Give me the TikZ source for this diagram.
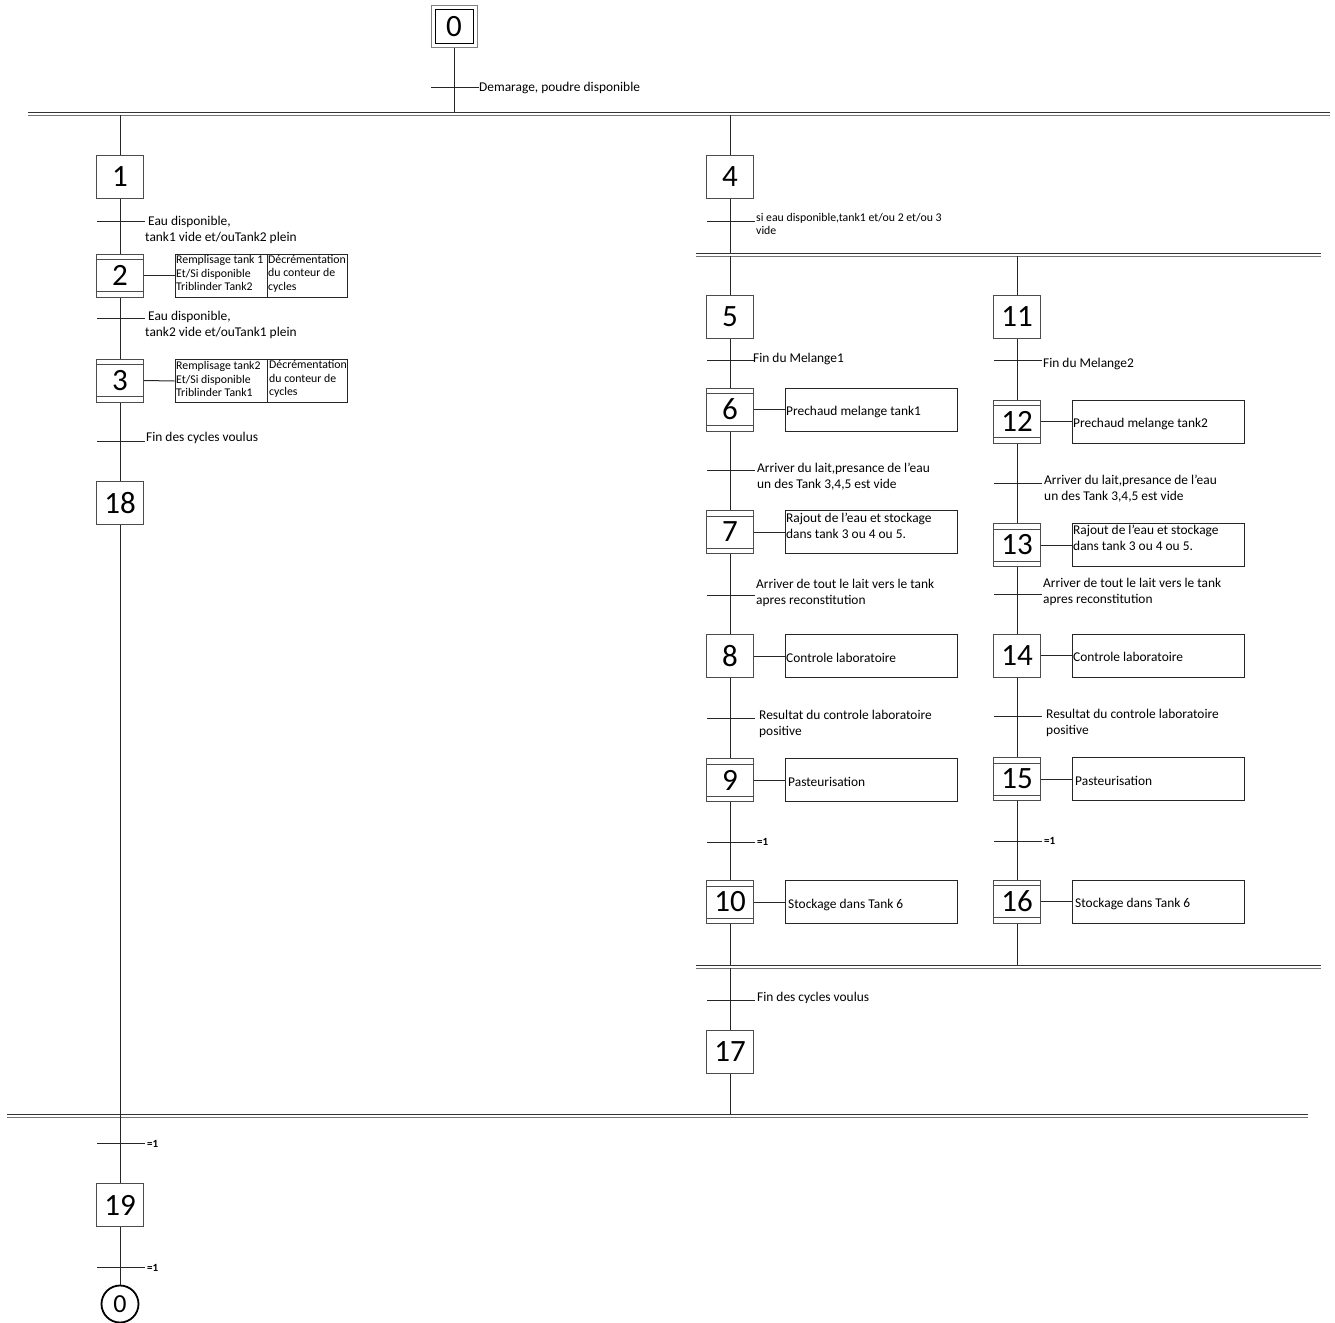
\documentclass[tikz,border=0pt]{standalone}
\usepackage{fontspec}
\setmainfont{Carlito}
\begin{document}
\begin{tikzpicture}[x=1pt,y=-1pt,
  ln/.style={line width=1pt, draw=black!85},
  bar/.style={line width=1pt, draw=black!80},
  stepbox/.style={draw=black!70, line width=1pt, minimum width=47pt, minimum height=43pt, inner sep=0pt, font=\fontsize{31}{31}\selectfont},
  actstep/.style={stepbox, path picture={
     \draw[black!70,line width=0.9pt] ([yshift=-5.5pt]path picture bounding box.north west) -- ([yshift=-5.5pt]path picture bounding box.north east);
     \draw[black!70,line width=0.9pt] ([yshift=5.5pt]path picture bounding box.south west) -- ([yshift=5.5pt]path picture bounding box.south east);}},
  actbox/.style={draw=black!85, line width=1pt, minimum width=172pt, minimum height=43pt, inner sep=0pt},
  cell/.style={draw=black!85, line width=0.9pt, minimum height=43pt, inner sep=0pt},
  lbl/.style={anchor=base west, align=left, inner sep=0pt, font=\fontsize{13.4}{16}\selectfont},
  small/.style={anchor=base west, align=left, inner sep=0pt, font=\fontsize{11.8}{13}\selectfont},
  tiny/.style={anchor=base west, align=left, inner sep=0pt, font=\fontsize{11.8}{13.5}\selectfont},
  one/.style={anchor=base west, inner sep=0pt, font=\fontsize{11}{12}\selectfont\bfseries},
]
\useasboundingbox (0,0) rectangle (1335,1322);

% ---------- initial step 0
\node[draw=black!50, line width=1pt, minimum width=46pt, minimum height=42pt, inner sep=0pt] (s0o) at (454,27) {};
\node[draw=black, line width=1pt, minimum width=38pt, minimum height=34pt, inner sep=0pt, font=\fontsize{31}{31}\selectfont] (s0) at (454,27) {0};
\coordinate (t0) at (454,87);
\coordinate (j0) at (454,112);
\draw[ln] (s0o.south) -- (j0);
\draw[ln] ([xshift=-23pt]t0) -- ([xshift=25pt]t0);
\node[lbl] (l0) at (479,91) {Demarage, poudre disponible};

% ---------- double bars
\coordinate (b1a) at (28,112);   \coordinate (b1b) at (1330,112);
\coordinate (b2a) at (696,253);  \coordinate (b2b) at (1321,253);
\coordinate (b3a) at (696,965);  \coordinate (b3b) at (1321,965);
\coordinate (b4a) at (7,1114);   \coordinate (b4b) at (1308,1114);
\foreach \a/\b in {b1a/b1b,b2a/b2b,b3a/b3b,b4a/b4b}{
  \draw[bar] (\a) -- (\b);
  \draw[bar,draw=black!55] ([yshift=-3pt]\a) -- ([yshift=-3pt]\b);
}

% ---------- left branch
\node[stepbox] (s1) at (120,176.5) {1};
\node[actstep] (s2) at (120,275.5) {2};
\node[actstep] (s3) at (120,380.5) {3};
\node[stepbox] (s18) at (120,503) {18};
\node[stepbox] (s19) at (120,1205) {19};
\node[draw=black, line width=1.8pt, circle, minimum size=37pt, inner sep=0pt, font=\fontsize{26}{26}\selectfont] (c0) at (120,1304) {0};

\coordinate (j1) at (120,115);
\draw[ln] (j1) -- (s1.north);
\draw[ln] (s1.south) -- (s2.north);
\draw[ln] (s2.south) -- (s3.north);
\draw[ln] (s3.south) -- (s18.north);
\draw[ln] (s18.south) -- (s19.north);
\draw[ln] (s19.south) -- (c0.north);

\coordinate (t1) at (120,221);
\coordinate (t2) at (120,318);
\coordinate (t3) at (120,441);
\coordinate (t18) at (120,1143);
\coordinate (t19) at (120,1267);
\foreach \t in {t1,t2,t3,t18,t19}{\draw[ln] ([xshift=-23pt]\t) -- ([xshift=25pt]\t);}
\node[lbl] (l1) at (145,241) {\ Eau disponible,\\tank1 vide et/ouTank2 plein};
\node[lbl] (l2) at (145,336) {\ Eau disponible,\\tank2 vide et/ouTank1 plein};
\node[lbl] (l3) at (146,441) {Fin des cycles voulus};
\node[one] (l18) at (147,1147) {=1};
\node[one] (l19) at (147,1271) {=1};

% action tables of steps 2 and 3
\node[cell, minimum width=92pt] (a2l) at (221,275.5) {};
\node[cell, minimum width=80pt] (a2r) at (307,275.5) {};
\node[cell, minimum width=92pt] (a3l) at (221,381) {};
\node[cell, minimum width=80pt] (a3r) at (307,381) {};
\draw[ln] (s2.east) -- (a2l.west);
\draw[ln] (s3.east) -- (a3l.west);
\node[tiny] (a2lt) at (176,290.5) {Remplisage tank 1\\Et/Si disponible\\Triblinder Tank2};
\node[tiny] (a2rt) at (268,290) {Décrémentation\\du conteur de\\cycles};
\node[tiny] (a3lt) at (176,396.5) {Remplisage tank2\\Et/Si disponible\\Triblinder Tank1};
\node[tiny] (a3rt) at (269,395.5) {Décrémentation\\du conteur de\\cycles};

% ---------- right branch
\node[stepbox] (s4) at (730,176.5) {4};
\coordinate (j4) at (730,115);
\coordinate (j4b) at (730,253);
\coordinate (t4) at (730,221);
\draw[ln] (j4) -- (s4.north);
\draw[ln] (s4.south) -- (j4b);
\draw[ln] ([xshift=-23pt]t4) -- ([xshift=25pt]t4);
\node[small] (l4) at (756,234.5) {si eau disponible,tank1 et/ou 2 et/ou 3\\vide};

% sub-branch A
\node[stepbox] (s5) at (730,317) {5};
\node[actstep] (s6) at (730,409.5) {6};
\node[actstep] (s7) at (730,532) {7};
\node[stepbox] (s8) at (730,656) {8};
\node[actstep] (s9) at (730,780) {9};
\node[actstep] (s10) at (730,902) {10};
\coordinate (jA1) at (730,256);
\coordinate (jA2) at (730,965);
\draw[ln] (jA1) -- (s5.north);
\draw[ln] (s5.south) -- (s6.north);
\draw[ln] (s6.south) -- (s7.north);
\draw[ln] (s7.south) -- (s8.north);
\draw[ln] (s8.south) -- (s9.north);
\draw[ln] (s9.south) -- (s10.north);
\draw[ln] (s10.south) -- (jA2);
\coordinate (t5) at (730,360);
\coordinate (t6) at (730,470);
\coordinate (t7) at (730,595);
\coordinate (t8) at (730,718);
\coordinate (t9) at (730,842);
\foreach \t in {t5,t6,t7,t8,t9}{\draw[ln] ([xshift=-23pt]\t) -- ([xshift=25pt]\t);}
\node[lbl] (l5) at (753,362) {Fin du Melange1};
\node[lbl] (l6) at (757,488) {Arriver du lait,presance de l'eau\\un des Tank 3,4,5 est vide};
\node[lbl] (l7) at (756,604) {Arriver de tout le lait vers le tank\\apres reconstitution};
\node[lbl] (l8) at (759,735) {Resultat du controle laboratoire\\positive};
\node[one] (l9) at (757,845.5) {=1};

\node[actbox] (a6) at (871,409.5) {};
\node[actbox] (a7) at (871,532) {};
\node[actbox] (a8) at (871,656) {};
\node[actbox] (a9) at (871,780) {};
\node[actbox] (a10) at (871,902) {};
\foreach \s/\a in {s6/a6,s7/a7,s8/a8,s9/a9,s10/a10}{\draw[ln] (\s.east) -- (\a.west);}
\node[lbl] (a6t) at (786,415) {Prechaud melange tank1};
\node[lbl] (a7t) at (786,538) {Rajout de l'eau et stockage\\dans tank 3 ou 4 ou 5.};
\node[lbl] (a8t) at (786,662) {Controle laboratoire};
\node[lbl] (a9t) at (788,786) {Pasteurisation};
\node[lbl] (a10t) at (788,908) {Stockage dans Tank 6};

% sub-branch B
\node[stepbox] (s11) at (1017,317) {11};
\node[actstep] (s12) at (1017,421.5) {12};
\node[actstep] (s13) at (1017,545) {13};
\node[stepbox] (s14) at (1017,655.5) {14};
\node[actstep] (s15) at (1017,779) {15};
\node[actstep] (s16) at (1017,901.5) {16};
\coordinate (jB1) at (1017,256);
\coordinate (jB2) at (1017,965);
\draw[ln] (jB1) -- (s11.north);
\draw[ln] (s11.south) -- (s12.north);
\draw[ln] (s12.south) -- (s13.north);
\draw[ln] (s13.south) -- (s14.north);
\draw[ln] (s14.south) -- (s15.north);
\draw[ln] (s15.south) -- (s16.north);
\draw[ln] (s16.south) -- (jB2);
\coordinate (t11) at (1017,360);
\coordinate (t12) at (1017,483);
\coordinate (t13) at (1017,594);
\coordinate (t14) at (1017,716);
\coordinate (t15) at (1017,841);
\foreach \t in {t11,t12,t13,t14,t15}{\draw[ln] ([xshift=-23pt]\t) -- ([xshift=25pt]\t);}
\node[lbl] (l11) at (1043,367) {Fin du Melange2};
\node[lbl] (l12) at (1044,500) {Arriver du lait,presance de l'eau\\un des Tank 3,4,5 est vide};
\node[lbl] (l13) at (1043,603) {Arriver de tout le lait vers le tank\\apres reconstitution};
\node[lbl] (l14) at (1046,734) {Resultat du controle laboratoire\\positive};
\node[one] (l15) at (1044,844.5) {=1};

\node[actbox] (a12) at (1158,421.5) {};
\node[actbox] (a13) at (1158,545) {};
\node[actbox] (a14) at (1158,655.5) {};
\node[actbox] (a15) at (1158,779) {};
\node[actbox] (a16) at (1158,901.5) {};
\foreach \s/\a in {s12/a12,s13/a13,s14/a14,s15/a15,s16/a16}{\draw[ln] (\s.east) -- (\a.west);}
\node[lbl] (a12t) at (1073,427) {Prechaud melange tank2};
\node[lbl] (a13t) at (1073,550) {Rajout de l'eau et stockage\\dans tank 3 ou 4 ou 5.};
\node[lbl] (a14t) at (1073,661) {Controle laboratoire};
\node[lbl] (a15t) at (1075,785) {Pasteurisation};
\node[lbl] (a16t) at (1075,907) {Stockage dans Tank 6};

% after join
\node[stepbox] (s17) at (730,1052) {17};
\coordinate (j17a) at (730,968);
\coordinate (j17b) at (730,1114);
\coordinate (t17) at (730,1000);
\draw[ln] (j17a) -- (s17.north);
\draw[ln] (s17.south) -- (j17b);
\draw[ln] ([xshift=-23pt]t17) -- ([xshift=25pt]t17);
\node[lbl] (l17) at (757,1001) {Fin des cycles voulus};
\end{tikzpicture}
\end{document}
